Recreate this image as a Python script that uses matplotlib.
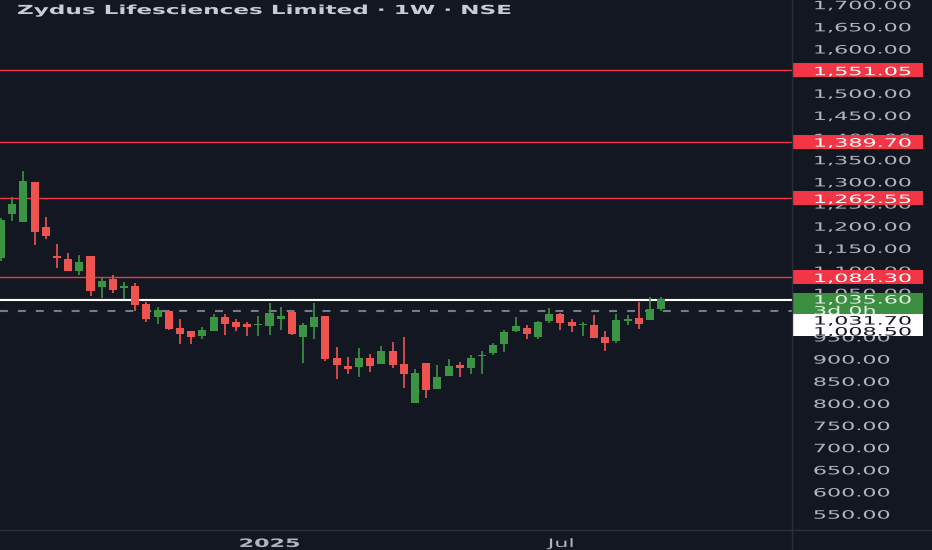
import numpy as np
import matplotlib
matplotlib.use("Agg")
import matplotlib.pyplot as plt
from matplotlib.patches import Rectangle
from matplotlib.lines import Line2D
from matplotlib.patheffects import AbstractPathEffect
from matplotlib.transforms import Affine2D

# Weekly candles (Zydus Lifesciences, NSE)
opens = [1127, 1226, 1208, 1299, 1197, 1131, 1125, 1098, 1132, 1062,
         1079, 1060, 1064, 1023, 995, 1007, 969, 962, 952, 962,
         994, 983, 978, 975, 973, 989, 1005, 949, 971, 996,
         901, 883, 881, 901, 888, 918, 888, 800, 890, 832,
         861, 885, 879, 906, 913, 933, 962, 969, 949, 985,
         1001, 983, 976, 976, 949, 940, 986, 992, 987, 1012]
highs = [1218, 1264, 1323, 1299, 1220, 1159, 1138, 1134, 1132, 1082,
         1088, 1073, 1071, 1028, 1016, 1010, 989, 963, 971, 1000,
         1001, 989, 983, 996, 1026, 1017, 1007, 980, 1026, 996,
         926, 903, 924, 910, 928, 938, 949, 877, 890, 886,
         899, 892, 908, 917, 935, 965, 994, 976, 985, 1014,
         1003, 989, 983, 998, 962, 1001, 998, 1028, 1039, 1040]
lows = [1120, 1210, 1208, 1156, 1170, 1105, 1097, 1089, 1041, 1037,
        1048, 1035, 1007, 983, 978, 965, 933, 933, 944, 962,
        953, 962, 951, 951, 953, 965, 953, 890, 944, 895,
        854, 865, 858, 870, 888, 879, 834, 800, 811, 832,
        861, 858, 865, 865, 909, 915, 960, 944, 945, 980,
        965, 960, 951, 946, 917, 935, 976, 967, 987, 1008]
closes = [1212, 1249, 1301, 1186, 1177, 1128, 1098, 1118, 1053, 1075,
          1055, 1063, 1021, 989, 1009, 967, 956, 949, 964, 994,
          978, 971, 971, 977, 1003, 996, 956, 976, 994, 899,
          885, 876, 901, 883, 918, 885, 865, 867, 829, 859,
          884, 878, 901, 908, 931, 960, 974, 956, 983, 1001,
          980, 974, 978, 947, 935, 987, 988, 978, 1012, 1035.6]

# horizontal levels drawn on the chart
resistance_levels = [1551.05, 1389.70, 1262.55, 1084.30]
white_level = 1031.70
dashed_level = 1008.50
last_price = 1035.60
countdown = "3d 0h"

# price scale (1,550 and 1,000 sit fully under the price labels)
price_ticks = [550, 600, 650, 700, 750, 800, 850, 900, 950, 1050, 1100, 1150,
               1200, 1250, 1300, 1350, 1400, 1450, 1500, 1600, 1650, 1700]
date_ticks = [24, 50]
date_labels = ["2025", "Jul"]

BG = "#131722"
UP = "#3b9443"
DOWN = "#ef5350"
LEVEL = "#f23645"
TXT = "#b2b5be"
AXLINE = "#2a2e39"
FS = 8.3      # price scale font size
WIDE = 1.93   # the screenshot text is stretched sideways


class Widen(AbstractPathEffect):
    """draw text stretched horizontally (about its left edge or its centre)"""
    def __init__(self, sx, center=False):
        super().__init__()
        self.sx = sx
        self.center = center

    def draw_path(self, renderer, gc, tpath, affine, rgbFace=None):
        cx = 0
        if self.center:
            ext = tpath.get_extents()
            cx = (ext.x0 + ext.x1) / 2
        t = Affine2D().translate(-cx, 0).scale(self.sx, 1).translate(cx, 0)
        renderer.draw_path(gc, tpath, t + affine, rgbFace)


wide = [Widen(WIDE)]

fig = plt.figure(figsize=(9.32, 5.5), dpi=100, facecolor=BG)
ax = fig.add_axes([0, 20 / 550, 792 / 932, 530 / 550])
ax.set_facecolor(BG)

x = np.arange(len(opens))
o = np.array(opens, dtype=float)
h = np.array(highs, dtype=float)
l = np.array(lows, dtype=float)
c = np.array(closes, dtype=float)
cols = [UP if cc >= oo else DOWN for oo, cc in zip(o, c)]

ymin, ymax = 513.1, 1709.5
upp = (ymax - ymin) / 530  # price units per pixel

ax.vlines(x, l, h, colors=cols, linewidth=1.2, zorder=3)
body = np.maximum(np.abs(c - o), 1.2 * upp)
ax.bar(x, body, bottom=np.minimum(o, c), width=0.72, color=cols, zorder=4)

for lev in resistance_levels:
    ax.axhline(lev, color=LEVEL, lw=1.0, zorder=2)
ax.axhline(last_price, color="#5a8f5e", lw=1.0, ls=(0, (1, 2)), zorder=2)
ax.axhline(white_level, color="white", lw=1.5, zorder=2)
ax.axhline(dashed_level, color="#787b86", lw=1.5, ls=(0, (3.8, 4.8)), zorder=2)

ax.set_xlim(-0.09, 70.7)
ax.set_ylim(ymin, ymax)

ax.yaxis.tick_right()
ax.set_yticks(price_ticks)
ax.set_yticklabels([f"{v:,.2f}" for v in price_ticks])
ax.tick_params(axis="y", length=0, pad=15, colors=TXT, labelsize=FS)
ax.set_xticks(date_ticks)
ax.set_xticklabels(date_labels)
ax.tick_params(axis="x", length=0, pad=5, colors=TXT, labelsize=FS)
for t in ax.get_yticklabels():
    t.set_path_effects(wide)
for t in ax.get_xticklabels():
    t.set_path_effects([Widen(WIDE, center=True)])
ax.get_xticklabels()[0].set_fontweight("bold")
for s in ax.spines.values():
    s.set_visible(False)

# axis separators
fig.add_artist(Line2D([792 / 932, 792 / 932], [0, 1], color=AXLINE, lw=1))
fig.add_artist(Line2D([0, 1], [20 / 550, 20 / 550], color=AXLINE, lw=1))

# price labels on the axis
tr = ax.get_yaxis_transform()
bx0 = 793 / 792
bw = 130 / 792
tx = 813 / 792


def axis_label(y_top, y_bot, color):
    ax.add_patch(Rectangle((bx0, y_bot), bw, y_top - y_bot, transform=tr,
                           facecolor=color, edgecolor="none", clip_on=False, zorder=10))


def axis_text(y, s, color):
    ax.text(tx, y, s, transform=tr, color=color, fontsize=FS, va="center_baseline",
            ha="left", clip_on=False, zorder=11, path_effects=wide)


for lev in resistance_levels:
    axis_label(lev + 7 * upp, lev - 7 * upp, LEVEL)
    axis_text(lev, f"{lev:,.2f}", "white")

g_top = last_price + 6 * upp
g_bot = g_top - 21 * upp
axis_label(g_top, g_bot, "#3c8f40")
axis_text(last_price, f"{last_price:,.2f}", "#e3f2e4")
axis_text(last_price - 11 * upp, countdown, "#e3f2e4")

w_top = g_bot
w_bot = w_top - 22 * upp
axis_label(w_top, w_bot, "white")
axis_text(w_top - 6 * upp, f"{white_level:,.2f}", "#131722")
axis_text(w_top - 17 * upp, f"{dashed_level:,.2f}", "#131722")

fig.text(17 / 932, 1 - 10.5 / 550, "Zydus Lifesciences Limited · 1W · NSE",
         color="#c9ccd3", fontsize=9, fontweight="bold", va="center", ha="left",
         path_effects=[Widen(1.85)])

fig.savefig("out.png", dpi=100, facecolor=BG)
